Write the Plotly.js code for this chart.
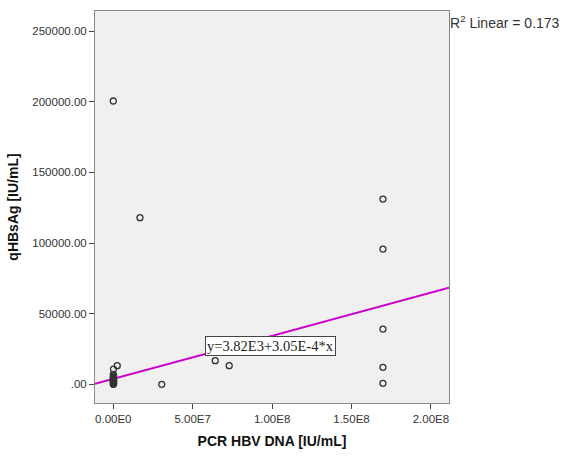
<!DOCTYPE html>
<html>
<head>
<meta charset="utf-8">
<script src="https://cdn.plot.ly/plotly-3.0.1.min.js"></script>
<style>html,body{margin:0;padding:0;background:#fff;}#chart{width:563px;height:457px;}</style>
</head>
<body>
<div id="chart"></div>
<script>
// Data
const pcrDNA = [0, 1.0e5, 2.0e5, 0, 1.5e5, 0, 3.0e5, 0, 1.0e5, 0, 2.0e5, 5.0e4, 0, 1.0e5, 2.5e5, 0, 2.5e6, 1.2e5, 1.68e7, 3.05e7, 6.42e7, 7.3e7, 1.698e8, 1.698e8, 1.698e8, 1.698e8, 1.698e8];
const qHBsAg = [200500, 0, 500, 300, 1000, 1500, 1800, 2200, 2600, 3000, 3500, 4200, 4800, 5200, 6000, 7000, 13200, 10800, 117900, 0, 16700, 13200, 131100, 95700, 39100, 12000, 700];
const fitIntercept = 3820;
const fitSlope = 3.05e-4;
const fitX = [-1.152e7, 2.114e8];
const fitY = fitX.map(x => fitIntercept + fitSlope * x);
const xTicks = [0, 5e7, 1e8, 1.5e8, 2e8];
const xTickLabels = ["0.00E0", "5.00E7", "1.00E8", "1.50E8", "2.00E8"];
const yTicks = [0, 50000, 100000, 150000, 200000, 250000];
const yTickLabels = [".00", "50000.00", "100000.00", "150000.00", "200000.00", "250000.00"];
const eqText = "y=3.82E3+3.05E-4*x";
const r2Text = "R<sup>2</sup> Linear = 0.173";

const traces = [
  {x: fitX, y: fitY, mode: 'lines', type: 'scatter', line: {color: '#cc00cc', width: 2}, hoverinfo: 'skip'},
  {x: pcrDNA, y: qHBsAg, mode: 'markers', type: 'scatter',
   marker: {symbol: 'circle-open', size: 6, color: '#333333', line: {width: 1.3, color: '#333333'}}}
];

const layout = {
  width: 563, height: 457,
  margin: {l: 95, r: 114, t: 11, b: 54},
  paper_bgcolor: '#ffffff',
  plot_bgcolor: '#f0f0f0',
  showlegend: false,
  font: {family: 'Liberation Sans, Arial, sans-serif', size: 11, color: '#333333'},
  xaxis: {
    range: [-1.152e7, 2.114e8],
    tickvals: xTicks, ticktext: xTickLabels,
    showgrid: false, zeroline: false,
    ticks: 'outside', ticklen: 5, tickcolor: '#444',
    showline: true, linecolor: '#888', linewidth: 1, mirror: true,
    tickfont: {size: 11.5, color: '#333'},
    title: {text: 'PCR HBV DNA [IU/mL]', font: {size: 14, color: '#111', family: 'Liberation Sans, Arial, sans-serif', weight: 'bold'}, standoff: 12}
  },
  yaxis: {
    range: [-13230, 264190],
    tickvals: yTicks, ticktext: yTickLabels,
    showgrid: false, zeroline: false,
    ticks: 'outside', ticklen: 5, tickcolor: '#444',
    showline: true, linecolor: '#888', linewidth: 1, mirror: true,
    tickfont: {size: 11.5, color: '#333'},
    title: {text: 'qHBsAg [IU/mL]', font: {size: 14, color: '#111', family: 'Liberation Sans, Arial, sans-serif', weight: 'bold'}, standoff: 10}
  },
  annotations: [
    {x: 9.93e7, y: 27100, xref: 'x', yref: 'y', text: eqText, showarrow: false,
     font: {family: 'Liberation Serif, Times New Roman, serif', size: 14.5, color: '#222'},
     bgcolor: '#ffffff', bordercolor: '#444', borderwidth: 1, borderpad: 1},
    {x: 1, y: 1, xref: 'paper', yref: 'paper', xanchor: 'left', yanchor: 'top', xshift: -1, yshift: 0,
     text: r2Text, showarrow: false, font: {size: 14, color: '#333'}}
  ]
};

Plotly.newPlot('chart', traces, layout, {displayModeBar: false, staticPlot: true});
</script>
</body>
</html>
